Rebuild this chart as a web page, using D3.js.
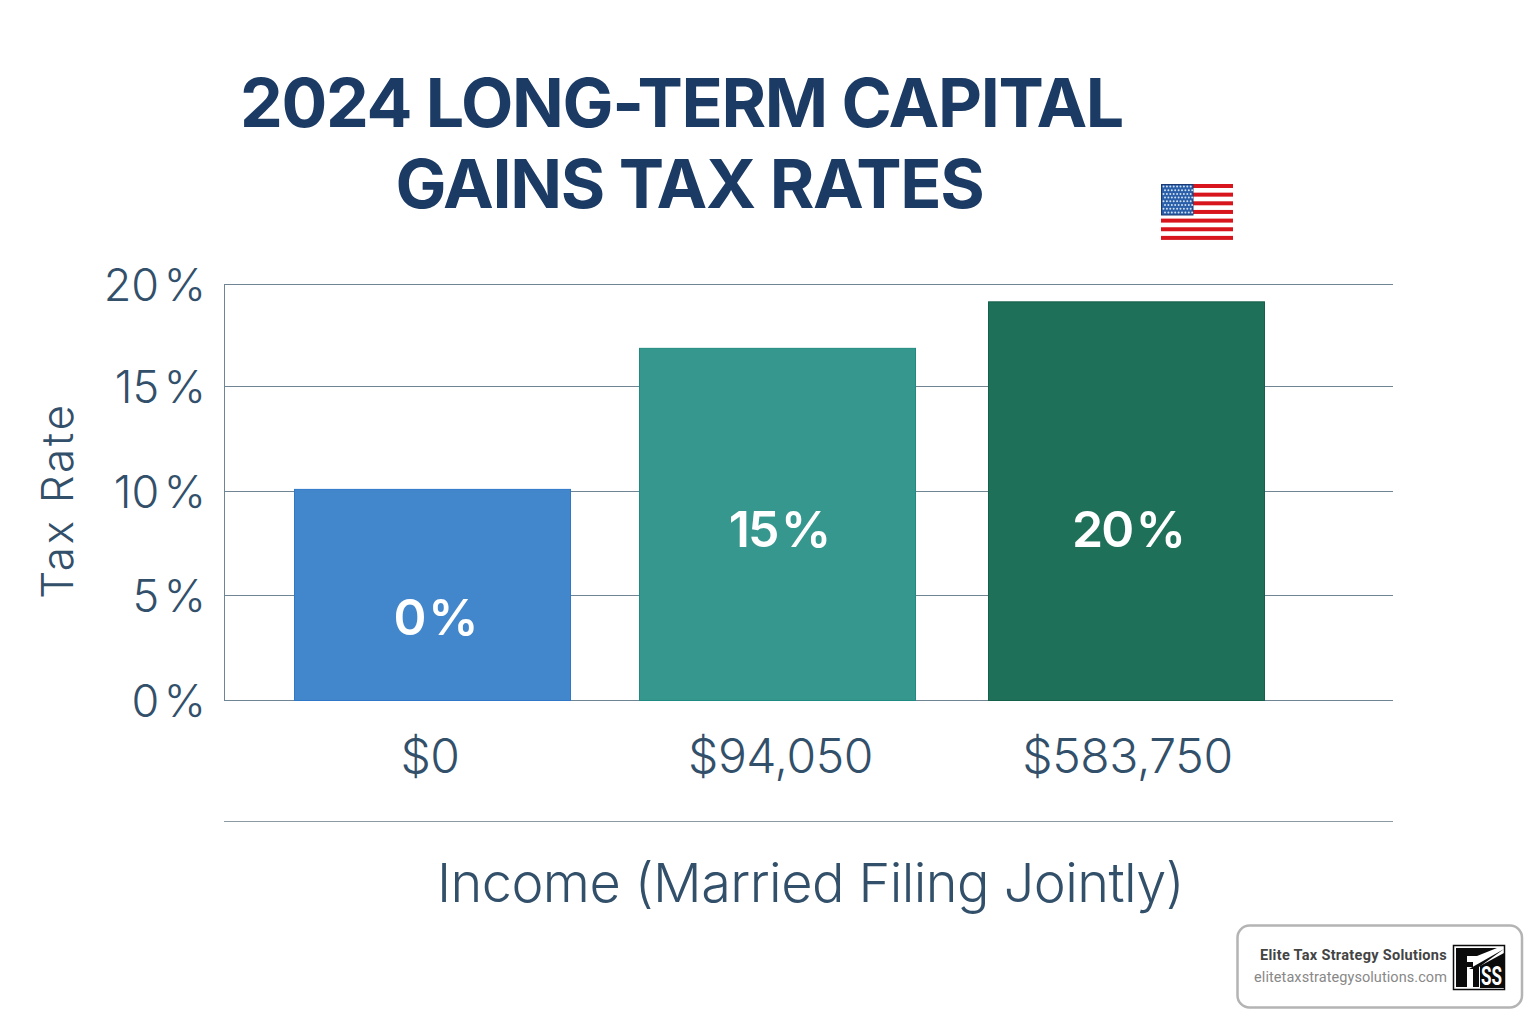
<!DOCTYPE html>
<html><head><meta charset="utf-8">
<script src="https://cdn.jsdelivr.net/npm/d3@7/dist/d3.min.js"></script>
<style>html,body{margin:0;background:#fff}svg{display:block}</style></head>
<body><div id="chart"></div>
<script>
const titleLines = ["2024 LONG-TERM CAPITAL", "GAINS TAX RATES"];
const categories = ["$0", "$94,050", "$583,750"];
const barValues = [10.1, 16.87, 19.15];
const barLabels = ["0 %", "15 %", "20 %"];
const barColors = ["#4286cb", "#36978e", "#1f7059"];
const barEdges = ["#2f78c8", "#218a80", "#14604a"];
const yTicks = [0, 5, 10, 15, 20];
const yTickPixels = [700, 595, 491, 386, 284];
const barLefts = [294, 639, 988];
const xLabelCenters = [430, 780.5, 1127.5];
const barLabelCenters = [435, 779, 1128];
const yTitle = "Tax Rate";
const xTitle = "Income (Married Filing Jointly)";
const badgeName = "Elite Tax Strategy Solutions";
const badgeUrl = "elitetaxstrategysolutions.com";
const flagStripes = [0, 1, 2, 3, 4, 5, 6];

const ink = "#33506b", rule = "#6f8594", navy = "#1b3a64";
const svg = d3.select("#chart").append("svg").attr("width", 1536).attr("height", 1024);
const font = "Inter, sans-serif";

const y = d3.scaleLinear().domain(yTicks).range(yTickPixels);
const x = d3.scaleOrdinal().domain(categories).range(barLefts);
const barWidth = 276;

// title
const titleCenters = [681.5, 689.5];
svg.append("g").selectAll("text").data(titleLines).join("text")
  .attr("x", (d, i) => titleCenters[i]).attr("y", (d, i) => 127 + i * 81)
  .attr("text-anchor", "middle").attr("font-family", font).attr("font-weight", 700)
  .attr("font-size", 68).attr("letter-spacing", -1.35).attr("fill", navy).text(d => d);

// grid
svg.append("g").selectAll("line").data(yTicks).join("line")
  .attr("x1", 224).attr("x2", 1393).attr("y1", d => y(d) + .5).attr("y2", d => y(d) + .5)
  .attr("stroke", rule).attr("stroke-width", 1);
svg.append("line").attr("x1", 224.5).attr("x2", 224.5).attr("y1", y(20)).attr("y2", y(0)).attr("stroke", rule);
svg.append("line").attr("x1", 224).attr("x2", 1393).attr("y1", 821.5).attr("y2", 821.5).attr("stroke", "#8a9ba6");

// y tick labels
svg.append("g").selectAll("text").data(yTicks).join("text")
  .attr("x", 206).attr("y", d => y(d) + 17).attr("text-anchor", "end")
  .attr("font-family", font).attr("font-weight", 300).attr("font-size", 45).attr("word-spacing", -8).attr("fill", ink)
  .text(d => d + " %");

// bars
svg.append("g").selectAll("rect").data(categories).join("rect")
  .attr("x", d => x(d) + .5).attr("width", barWidth)
  .attr("y", (d, i) => y(barValues[i]) + .5).attr("height", (d, i) => y(0) - y(barValues[i]))
  .attr("fill", (d, i) => barColors[i]).attr("stroke", (d, i) => barEdges[i]);

// bar labels
const labelBaseline = [635, 547, 547];
svg.append("g").selectAll("text").data(barLabels).join("text")
  .attr("x", (d, i) => barLabelCenters[i]).attr("y", (d, i) => labelBaseline[i])
  .attr("text-anchor", "middle").attr("font-family", font).attr("font-weight", 600)
  .attr("font-size", 50).attr("letter-spacing", -2).attr("word-spacing", -7).attr("fill", "#fff").text(d => d);

// x labels
svg.append("g").selectAll("text").data(categories).join("text")
  .attr("x", (d, i) => xLabelCenters[i]).attr("y", 773)
  .attr("text-anchor", "middle").attr("font-family", font).attr("font-weight", 300)
  .attr("font-size", 48).attr("letter-spacing", -0.4).attr("fill", ink).text(d => d);

// axis titles
svg.append("text").attr("x", 810.5).attr("y", 902).attr("text-anchor", "middle")
  .attr("font-family", font).attr("font-weight", 300).attr("font-size", 54).attr("letter-spacing", -0.55).attr("fill", ink).text(xTitle);
svg.append("text").attr("transform", "translate(73,500.5) rotate(-90)").attr("text-anchor", "middle")
  .attr("font-family", font).attr("font-weight", 300).attr("font-size", 44).attr("letter-spacing", 2.7).attr("fill", ink).text(yTitle);

// flag
const flag = svg.append("g").attr("transform", "translate(1161,184)");
flag.selectAll("rect.s").data(flagStripes).join("rect").attr("class", "s")
  .attr("x", 0).attr("width", 72).attr("y", d => d * 8.65).attr("height", 4).attr("fill", "#d8141c");
flag.append("rect").attr("x", .5).attr("y", .5).attr("width", 31.5).attr("height", 30.5).attr("fill", "#2a5ea8").attr("stroke", "#1b3a74");
const stars = [];
for (let r = 0; r < 8; r++) for (let c = 0; c < 9; c++) stars.push([c, r]);
flag.selectAll("circle").data(stars).join("circle")
  .attr("cx", d => 2.5 + d[0] * 3.4 + (d[1] % 2) * 1.5).attr("cy", d => 2.5 + d[1] * 3.7)
  .attr("r", 1).attr("fill", "#cfe0f2");

// badge
const badge = svg.append("g");
badge.append("rect").attr("x", 1237.5).attr("y", 925.5).attr("width", 284.5).attr("height", 82)
  .attr("rx", 12).attr("fill", "#fff").attr("stroke", "#b4b4b4").attr("stroke-width", 2.5);
badge.append("text").attr("x", 1447).attr("y", 960).attr("text-anchor", "end")
  .attr("font-family", "Roboto, sans-serif").attr("font-weight", 700).attr("font-size", 14.5).attr("letter-spacing", 0.3)
  .attr("fill", "#444").text(badgeName);
badge.append("text").attr("x", 1447).attr("y", 982).attr("text-anchor", "end")
  .attr("font-family", "Roboto, sans-serif").attr("font-size", 14.5).attr("letter-spacing", 0.07)
  .attr("fill", "#888").text(badgeUrl);
const logo = badge.append("g").attr("transform", "translate(1453,945)");
logo.append("rect").attr("x", .5).attr("y", .5).attr("width", 51).attr("height", 44).attr("fill", "#fff").attr("stroke", "#0b0b0b").attr("stroke-width", 1.5);
logo.append("path").attr("d", "M3 3 H44 L24 11 H14 V17 H20 V22 H14 V42 H3 Z").attr("fill", "#0b0b0b");
logo.append("path").attr("d", "M51 4 L16 24 H20 V42 H26 V22 Z").attr("fill", "#0b0b0b");
logo.append("path").attr("d", "M27 21 L51 8 V43 H27 Z").attr("fill", "#0b0b0b");
logo.append("text").attr("x", 28).attr("y", 40).attr("font-family", "Roboto, sans-serif").attr("font-weight", 700)
  .attr("font-size", 26).attr("fill", "#fff").attr("textLength", 21).attr("lengthAdjust", "spacingAndGlyphs").text("SS");
</script></body></html>
